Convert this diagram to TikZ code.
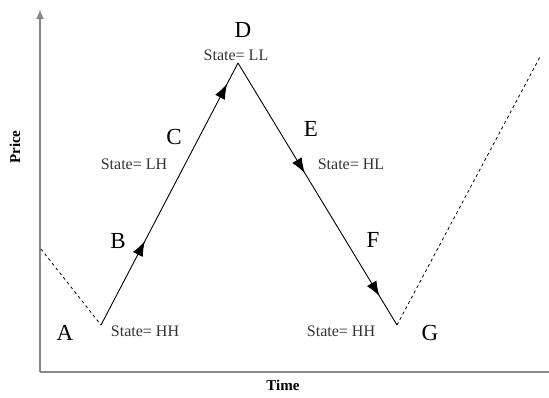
\documentclass[tikz,border=0pt]{standalone}
\usepackage{fontspec}
\setmainfont{Liberation Serif}
\usetikzlibrary{arrows.meta,decorations.markings}
\definecolor{axisgray}{HTML}{888888}
\definecolor{stategray}{HTML}{333333}
\begin{document}
\begin{tikzpicture}[x=1pt,y=-1pt,
  big/.style={inner sep=0pt,font=\fontsize{23}{23}\selectfont},
  statelbl/.style={inner sep=0pt,text=stategray,font=\fontsize{16}{16}\selectfont},
  axislbl/.style={inner sep=0pt,font=\bfseries\fontsize{15}{15}\selectfont},
  axisline/.style={draw=axisgray,line width=1.8pt},
  pathline/.style={draw=black,line width=0.9pt},
  dashline/.style={draw=black,line width=0.8pt,dash pattern=on 3pt off 3pt},
  midarrows/.style 2 args={postaction={decorate},decoration={markings,
    mark=at position #1 with {\arrow{Latex[length=15pt,width=11pt]}},
    mark=at position #2 with {\arrow{Latex[length=15pt,width=11pt]}}}}
]
\useasboundingbox (0,0) rectangle (549,397);
% axes
\coordinate (origin) at (40,372);
\coordinate (ytop) at (40,9);
\coordinate (xend) at (549,372);
\draw[axisline,-{Latex[length=10pt,width=8pt]}] (origin) -- (ytop);
\draw[axisline] (origin) -- (xend);
% path points
\coordinate (start) at (41,249);
\coordinate (A) at (101,325);
\coordinate (D) at (238,63);
\coordinate (G) at (397,325);
\coordinate (finish) at (541,55);
\draw[dashline] (start) -- (A);
\draw[pathline,midarrows={0.32}{0.92}] (A) -- (D);
\draw[pathline,midarrows={0.42}{0.89}] (D) -- (G);
\draw[dashline] (G) -- (finish);
% labels
\node[big] (lA) at (65,333) {A};
\node[big] (lB) at (118,241) {B};
\node[big] (lC) at (174,137) {C};
\node[big] (lD) at (243,30) {D};
\node[big] (lE) at (311,129) {E};
\node[big] (lF) at (373,240) {F};
\node[big] (lG) at (430,333) {G};
\node[statelbl] (sA) at (145,331) {State= HH};
\node[statelbl] (sC) at (134,164) {State= LH};
\node[statelbl] (sD) at (236,55) {State= LL};
\node[statelbl] (sE) at (351,164) {State= HL};
\node[statelbl] (sG) at (341,331) {State= HH};
\node[axislbl,rotate=90] (price) at (15,147) {Price};
\node[axislbl] (time) at (283,385) {Time};
\end{tikzpicture}
\end{document}
